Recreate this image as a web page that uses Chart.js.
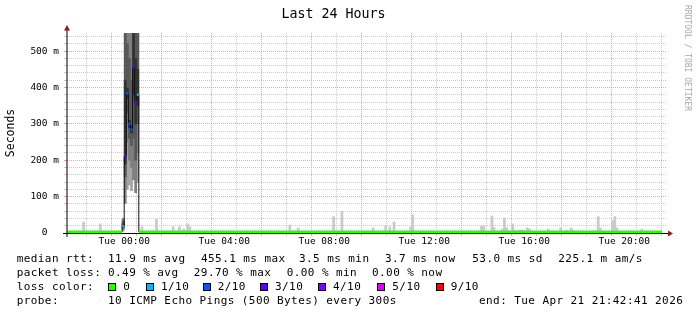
<!DOCTYPE html>
<html><head><meta charset="utf-8">
<script src="https://cdn.jsdelivr.net/npm/chart.js@4/dist/chart.umd.min.js"></script>
<style>
html,body{margin:0;padding:0;background:#fff;}
#wrap{position:relative;width:697px;height:315px;overflow:hidden;background:#fff;}
canvas{position:absolute;left:0;top:0;}
.t{position:absolute;font-family:"DejaVu Sans Mono",monospace;font-size:11px;letter-spacing:0.42px;white-space:pre;color:#000;line-height:14px;}
.box{position:absolute;width:6px;height:6px;border:1px solid #000;}
#wm{position:absolute;left:683px;top:5px;writing-mode:vertical-rl;font-family:"DejaVu Sans Mono",monospace;font-size:8px;color:#a8a8a8;white-space:pre;line-height:9px;}
</style></head>
<body><div id="wrap"><canvas id="c" width="697" height="315"></canvas><div id="wm">RRDTOOL / TOBI OETIKER</div></div>
<script>
// ---- time window (minutes relative to Tue 00:00) ----
const windowStart = -137.3167;   // Mon 21:42:41
const windowEnd = 1302.6833;     // Tue 21:42:41
const dataEnd = 1290;            // last drawn step

// ---- axis tick labels ----
const tickMinutes = [0, 240, 480, 720, 960, 1200];
const tickLabels = ['Tue 00:00', 'Tue 04:00', 'Tue 08:00', 'Tue 12:00', 'Tue 16:00', 'Tue 20:00'];
const yTickValues = [0, 100, 200, 300, 400, 500];
const yTickLabels = ['0  ', '100 m', '200 m', '300 m', '400 m', '500 m'];

// ---- median rtt (ms) ----
const baseMedian = 3.6;
const stepStart  = [-5, 0, 5, 10, 15, 20, 25, 30];
const stepMedian = [19, 212, 384, 300, 285, 456, 361, 380];
const stepLoss   = [1, 3, 2, 2, 2, 3, 3, 1];
const stepPings  = [
  [5, 10, 14, 17, 19, 25, 32, 38, 41],
  [82, 154, 190, 212, 420, 600, 800],
  [120, 250, 330, 370, 398, 520, 700, 900],
  [132, 200, 260, 290, 310, 480, 650, 850],
  [116, 180, 240, 275, 295, 420, 600, 800],
  [146, 260, 380, 456, 560, 700, 900],
  [111, 200, 300, 361, 480, 650, 850],
  [140, 220, 300, 350, 380, 450, 560, 700, 900]
];

// ---- smoke spikes on the quiet baseline (step start, max ping ms) ----
const smokeStart = [-100,-60,40,75,115,130,140,150,155,395,415,500,520,595,625,635,645,685,690,855,860,880,885,905,910,915,930,935,945,950,955,965,970,1015,1045,1060,1070,1075,1135,1140,1170,1175,1180,1240];
const smokeTop   = [30,25,17,38,17,17,11,25,17,22,14,45,59,14,19,17,30,17,50,19,19,47,15,11,41,15,25,8,8,8,8,14,11,11,14,8,14,8,45,14,34,45,14,11];

const lossColor = {0:'#26ff00', 1:'#00b8ff', 2:'#0059ff', 3:'#5e00ff', 4:'#7e00ff', 5:'#dd00ff', 9:'#ff0000'};
const greys = ['#cacaca', '#a4a4a4', '#7e7e7e', '#585858', '#323232'];

// build smoke layers
const layers = greys.map(() => []);
smokeStart.forEach((s, i) => layers[0].push({x: s + 2.5, y: [baseMedian, smokeTop[i]]}));
stepStart.forEach((s, i) => {
  const p = stepPings[i], n = p.length, off = Math.round((10 - n) / 2);
  for (let k = 0; k < Math.floor(n / 2); k++) {
    layers[Math.min(4, k + off)].push({x: s + 2.5, y: [p[k], p[n - 1 - k]]});
  }
});

// median runs
const runs = [{s: windowStart, e: -5, v: baseMedian, l: 0}];
stepStart.forEach((s, i) => runs.push({s: s, e: s + 5, v: stepMedian[i], l: stepLoss[i]}));
runs.push({s: 35, e: dataEnd, v: baseMedian, l: 0});

const blackPts = runs.map(r => ({x: r.s, y: r.v}));
blackPts.push({x: dataEnd, y: baseMedian});
const colPts = [], colLoss = [];
runs.forEach(r => {
  colPts.push({x: r.s, y: r.v}, {x: r.e, y: r.v}, {x: r.e, y: null});
  colLoss.push(r.l, r.l, r.l);
});

const stepW = 600 / 288;
const smokeSets = layers.map((d, c) => ({
  type: 'bar', data: d, backgroundColor: greys[c], borderWidth: 0,
  barThickness: stepW, grouped: false, order: 10 - c
}));

const majorC = 'rgba(228,95,95,0.6)';
const minorC = 'rgba(160,160,160,0.55)';
const mono = 'DejaVu Sans Mono';

const axisPlugin = {
  id: 'rrdAxes',
  afterDraw(chart) {
    const {ctx, chartArea: a} = chart;
    ctx.save();
    ctx.strokeStyle = 'rgba(0,0,0,0.5)'; ctx.lineWidth = 2;
    ctx.beginPath(); ctx.moveTo(a.left, a.bottom + 4); ctx.lineTo(a.left, a.top - 4); ctx.stroke();
    ctx.strokeStyle = '#000'; ctx.lineWidth = 1;
    ctx.beginPath(); ctx.moveTo(a.left - 4, a.bottom + 0.5); ctx.lineTo(a.right + 2, a.bottom + 0.5); ctx.stroke();
    ctx.fillStyle = '#8c1c1c';
    ctx.beginPath(); ctx.moveTo(a.left, a.top - 8); ctx.lineTo(a.left - 3, a.top - 2.5); ctx.lineTo(a.left + 3, a.top - 2.5); ctx.closePath(); ctx.fill();
    ctx.beginPath(); ctx.moveTo(a.right + 6, a.bottom + 0.5); ctx.lineTo(a.right + 1, a.bottom - 2.5); ctx.lineTo(a.right + 1, a.bottom + 3.5); ctx.closePath(); ctx.fill();
    ctx.restore();
  }
};

new Chart(document.getElementById('c'), {
  data: {
    datasets: [
      {type: 'line', data: colPts, borderWidth: 2.5, pointRadius: 0, spanGaps: false, borderCapStyle: 'butt',
       segment: {borderColor: ctx => lossColor[colLoss[ctx.p0DataIndex]]}, borderColor: '#26ff00', order: 0},
      {type: 'line', data: blackPts, stepped: true, borderWidth: 1, borderColor: '#111', pointRadius: 0, order: 1},
      ...smokeSets
    ]
  },
  options: {
    responsive: false, animation: false, devicePixelRatio: 1,
    layout: {padding: {left: 0, right: 30, top: 0, bottom: 62}},
    plugins: {
      legend: {display: false}, tooltip: {enabled: false},
      title: {display: true, text: 'Last 24 Hours', color: '#000',
              font: {family: mono, size: 13.3, weight: 'normal'}, padding: {top: 7, bottom: 10}}
    },
    scales: {
      x: {
        type: 'linear', min: windowStart, max: windowEnd, offset: false,
        afterBuildTicks: sc => { const t = []; for (let m = -120; m <= 1260; m += 60) t.push({value: m}); sc.ticks = t; },
        afterFit: sc => { sc.height = 20; },
        ticks: {autoSkip: false, maxRotation: 0, minRotation: 0, padding: 0, color: '#000',
                font: {family: mono, size: 9.5},
                callback: v => { const i = tickMinutes.indexOf(v); return i < 0 ? '' : tickLabels[i]; }},
        grid: {color: c => (c.tick && c.tick.value % 120 === 0) ? majorC : minorC, lineWidth: 1, tickLength: 3},
        border: {display: false, dash: [1, 1]}
      },
      y: {
        type: 'linear', min: 0, max: 550,
        afterBuildTicks: sc => { const t = []; for (let v = 0; v <= 540; v += 20) t.push({value: v}); sc.ticks = t; },
        afterFit: sc => { sc.width = 67; },
        ticks: {autoSkip: false, padding: 5, color: '#000', font: {family: mono, size: 9.5},
                callback: v => { const i = yTickValues.indexOf(v); return i < 0 ? '' : yTickLabels[i]; }},
        grid: {color: c => (c.tick && c.tick.value % 100 === 0) ? majorC : minorC, lineWidth: 1, tickLength: 3},
        border: {display: false, dash: [1, 1]},
        title: {display: true, text: 'Seconds', color: '#000', font: {family: mono, size: 11.5}, padding: {top: 4, bottom: 0}}
      }
    }
  },
  plugins: [axisPlugin]
});

// ---- legend (text) ----
const legendRows = [
  {top: 252, items: [[16.7, 'median rtt:'], [108, '11.9 ms avg'], [201, '455.1 ms max'], [299, '3.5 ms min'], [385, '3.7 ms now'], [472.3, '53.0 ms sd'], [558.3, '225.1 m am/s']]},
  {top: 266, items: [[16.7, 'packet loss:'], [108, '0.49 % avg'], [193.8, '29.70 % max'], [286.7, '0.00 % min'], [372, '0.00 % now']]},
  {top: 280, items: [[16.7, 'loss color:']]},
  {top: 294, items: [[16.7, 'probe:'], [108, '10 ICMP Echo Pings (500 Bytes) every 300s'], [479, 'end: Tue Apr 21 21:42:41 2026']]}
];
const lossLegendX = [108.3, 146, 202.7, 260, 318, 377.3, 435.7];
const lossLegendLabels = ['0', '1/10', '2/10', '3/10', '4/10', '5/10', '9/10'];
const lossLegendColors = ['#26ff00', '#00b8ff', '#0059ff', '#5e00ff', '#7e00ff', '#dd00ff', '#ff0000'];

const wrap = document.getElementById('wrap');
function addText(x, y, s) { const d = document.createElement('div'); d.className = 't'; d.style.left = x + 'px'; d.style.top = y + 'px'; d.textContent = s; wrap.appendChild(d); }
legendRows.forEach(r => r.items.forEach(([x, s]) => addText(x, r.top, s)));
lossLegendX.forEach((x, i) => {
  const b = document.createElement('div'); b.className = 'box';
  b.style.left = Math.round(x) + 'px'; b.style.top = '283px'; b.style.background = lossLegendColors[i];
  wrap.appendChild(b);
  addText(x + 15, 280, lossLegendLabels[i]);
});
</script>
</body></html>
